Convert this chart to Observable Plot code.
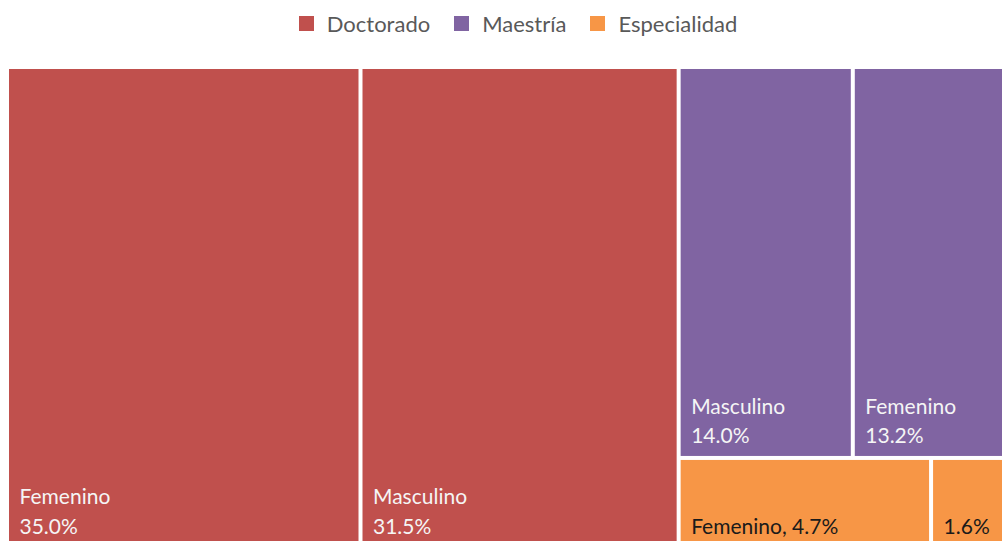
<!DOCTYPE html>
<html><head><meta charset="utf-8">
<script src="https://cdn.jsdelivr.net/npm/d3@7"></script>
<script src="https://cdn.jsdelivr.net/npm/@observablehq/plot@0.6"></script>
<style>
html,body{margin:0;padding:0;background:#fff;overflow:hidden;}
#legend{height:46px;display:flex;align-items:center;justify-content:center;padding-left:34px;box-sizing:border-box;font-family:Lato,sans-serif;font-size:22px;color:#595959;}
.item{display:flex;align-items:center;margin:0 12px;}
.sw{width:15px;height:15px;margin-right:13px;}
</style></head><body>
<div id="legend"></div>
<div id="chart"></div>
<script>
const categories = ["Doctorado", "Maestría", "Especialidad"];
const categoryColors = ["#C0504D", "#8064A2", "#F79646"];
const leafCategory = ["Doctorado", "Doctorado", "Maestría", "Maestría", "Especialidad", "Especialidad"];
const leafGender = ["Femenino", "Masculino", "Masculino", "Femenino", "Femenino", "Masculino"];
const leafValue = [35.0, 31.5, 14.0, 13.2, 4.7, 1.6];
const leafLabel = ["Femenino\n35.0%", "Masculino\n31.5%", "Masculino\n14.0%", "Femenino\n13.2%", "Femenino, 4.7%", "1.6%"];

// legend
const legend = document.getElementById("legend");
categories.forEach((c, i) => {
  const it = document.createElement("div"); it.className = "item";
  const sw = document.createElement("div"); sw.className = "sw"; sw.style.background = categoryColors[i];
  const tx = document.createElement("span"); tx.textContent = c;
  it.appendChild(sw); it.appendChild(tx); legend.appendChild(it);
});

const rows = leafValue.map((v, i) => ({category: leafCategory[i], gender: leafGender[i], value: v, label: leafLabel[i]}));
const tree = {name: "root", children: categories.map(c => ({name: c, children: rows.filter(r => r.category === c)}))};
const root = d3.hierarchy(tree).sum(d => d.value || 0).sort((a, b) => b.value - a.value);
const W = 1010, H = 481.5;
const tile = (node, x0, y0, x1, y1) => node.depth === 0 ? d3.treemapBinary(node, x0, y0, x1, y1) : d3.treemapDice(node, x0, y0, x1, y1);
d3.treemap().size([W, H]).tile(tile)(root);
const leaves = root.leaves();

const chart = Plot.plot({
  width: 1002, height: 495, margin: 0,
  style: {fontFamily: "Lato, sans-serif", background: "transparent"},
  x: {domain: [0, W], range: [7, 1017], axis: null},
  y: {domain: [0, H], range: [21, 502.5], axis: null},
  color: {domain: categories, range: categoryColors},
  marks: [
    Plot.rect(leaves, {x1: "x0", x2: "x1", y1: "y0", y2: "y1", fill: d => d.data.category, inset: 2}),
    Plot.text(leaves, {filter: d => d.data.category !== "Especialidad", x: "x0", y: "y1", text: d => d.data.label,
      textAnchor: "start", lineAnchor: "bottom", dx: 12, dy: -15, fill: "#f5f5f5", fontSize: 21, lineHeight: 1.42}),
    Plot.text(leaves, {filter: d => d.data.category === "Especialidad", x: "x0", y: "y1", text: d => d.data.label,
      textAnchor: "start", lineAnchor: "bottom", dx: 12, dy: -15, fill: "#1a1a1a", fontSize: 21, lineHeight: 1.42})
  ]
});
document.getElementById("chart").appendChild(chart);
</script>
</body></html>
